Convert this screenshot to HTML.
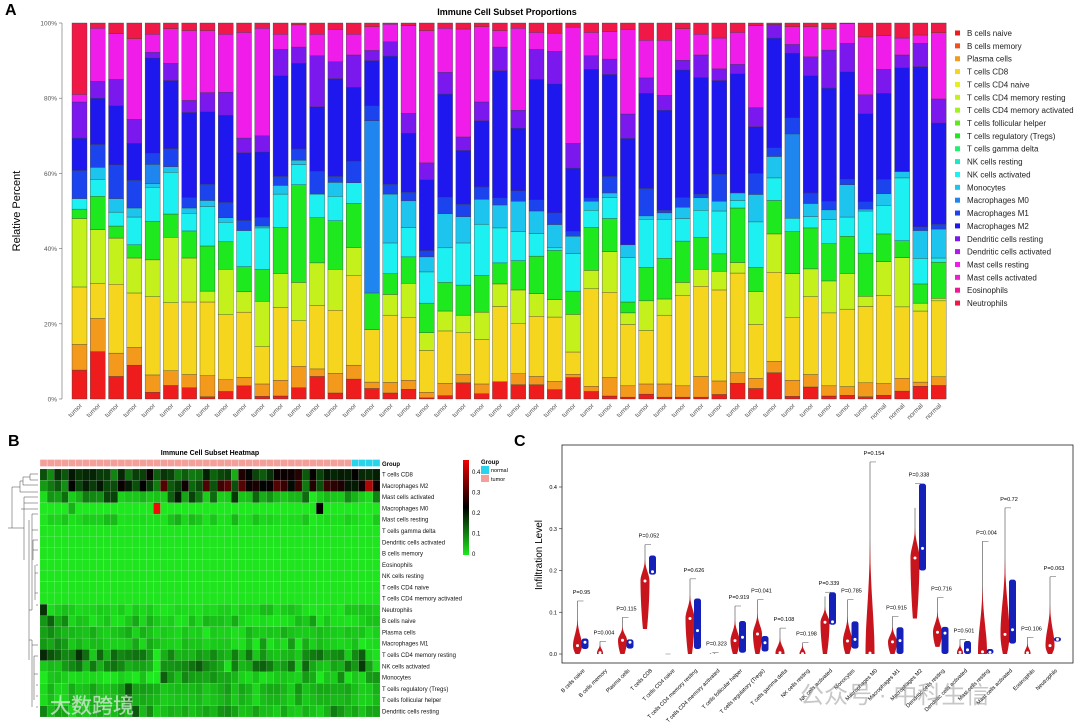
<!DOCTYPE html>
<html><head><meta charset="utf-8"><style>
html,body{margin:0;padding:0;background:#fff}
svg{display:block;font-family:"Liberation Sans","Noto Sans CJK SC",sans-serif}
</style></head><body>
<svg id="fig" width="1080" height="722" viewBox="0 0 1080 722" xmlns="http://www.w3.org/2000/svg">
<g id="pa"></g>
<g id="pb"></g>
<g id="pc"></g>
</svg>
<script>
// ===== Panel A data =====
const sampleGroups = [];
for (let i = 0; i < 44; i++) sampleGroups.push('tumor');
sampleGroups.push('normal','normal','normal','normal');
const stackGroups = ['B cells naive','Plasma cells','T cells CD8','T cells CD4 memory resting','T cells (green)','NK cells activated','Monocytes','Macrophages M0','Macrophages M1','Macrophages M2','Dendritic cells resting','Mast cells'];
// cumulative top (%) of each stack group per sample, rest = Neutrophils
const cumTops = [
[7.7,14.5,29.8,48,50.5,53.3,53.3,53.3,60.8,69.4,79,81],
[12.6,21.4,30.8,45,53.9,58.4,61.6,61.6,67.7,80,84.5,98.6],
[6,12.2,30.5,42.8,46,49.7,53.3,53.3,62.3,78,85,97.2],
[9,13.7,28.2,37.5,41,48.4,50.8,50.8,58.2,68,74.4,95.8],
[1.8,6.4,27.2,37,47.3,56.3,57.3,62.4,65.4,90.7,92.2,97],
[3.6,7.5,25.6,43,49.2,60.3,61.8,61.8,66.6,84.7,89.3,98.5],
[3,6.5,25.8,37.5,44.7,49.4,50.8,50.8,53.6,76.2,79.4,98],
[0.6,6.2,25.8,28.7,40.7,51.2,52.8,52.8,57.1,76.4,81.5,98],
[2,5.1,22.4,34.5,41.8,47,48.2,48.2,52.3,75.5,81.6,97],
[3.5,5.8,23.1,28.5,35.2,44.8,44.8,44.8,47.5,65.5,69.4,97.5],
[0.7,4,13.9,26,34.5,45.5,46,46,48.3,65.7,70,98.6],
[0.8,5,24.3,33.4,45.6,54.5,56.8,56.8,59.2,86,93,97],
[3,8.7,20.8,31,57,62.3,63.5,63.5,66.5,89.3,93.6,99.5],
[6,8,24.9,36.2,48.2,54.5,54.5,54.5,60.6,77.7,91.3,97],
[1.6,6.8,23.6,34.5,47.4,53.9,57.6,57.6,59.2,85.2,89.7,98.3],
[5.3,9,32.9,40.3,52,57.5,57.5,57.5,63.3,82.9,91.5,97],
[2.8,4.5,18.4,18.4,28.2,28.2,28.2,74,78,90,92.7,99],
[1.6,4.4,22.3,27.8,33.3,41.5,54.5,54.5,57.1,91.2,95,99.7],
[2.6,5,21.6,30.8,37.8,45.6,52.7,52.7,55,70.7,76,99.3],
[0.3,1.8,12.9,17.6,25.5,33.8,37.8,37.8,39.5,58.3,62.8,98],
[0.9,4.2,18.1,23.4,31,40.2,49.3,49.3,53.7,81.1,86.9,98.6],
[4.3,6.5,17.6,22.3,30.3,41.5,48.5,48.5,51.8,66.1,69.7,98.4],
[1.4,4,15.8,23.1,32.9,46.5,53.1,53.1,56.4,74,79,99],
[4.6,4.6,24.6,30.6,36.2,45.5,51.6,51.6,53.5,87.3,93.6,98],
[3.8,6.7,20,29,36.8,44.5,52.6,52.6,55.4,72,76.8,98.6],
[3.8,6,22,28,38,44,50,50,53,85,93,97.5],
[2.5,4.7,21.8,26.4,39.5,40.2,46.4,46.4,49.5,83.8,92.5,97.3],
[5.7,6.6,12.5,22.5,28.7,38.7,43.3,43.3,44.6,61.4,68,98.9],
[2,3.4,29.3,34.2,45.6,50.2,52.6,52.6,53.5,87.7,91.3,97.5],
[0.8,5.7,28.4,39.2,48,53.6,54.8,54.8,59.2,86.3,90.4,97.7],
[0.5,3.5,19.8,22.9,25.8,37.6,41,41,41,69.3,75.8,98.3],
[1.3,4,18.2,26.1,35,47.8,48.7,48.7,56,81.3,85.4,95.4],
[0.5,4,22.3,26.6,37.4,47.8,49.5,49.5,50.2,76.8,80.8,95.4],
[0.5,3.5,27.6,31,42,48,51,51,53.6,87.5,90.1,98.5],
[0.5,6,30,34.5,43,50.2,53.5,53.5,54.5,85.5,91.5,97],
[1.2,4.8,29,34,38.6,50,52.6,52.6,59.8,84.7,87.8,96],
[4.2,7,33.5,36.3,50.8,52.8,54.8,54.8,54.8,86.5,89,97.5],
[2.8,5.5,19.8,28.6,35,47.1,54.4,54.4,60,72.4,77.5,99.3],
[7,10,33.7,43.9,52.8,58.8,64.5,64.5,66.8,96,99.6,99.6],
[0.7,5,21.6,33.3,44.5,48.1,48.1,70.5,74.8,92,94.3,99],
[3.2,6.5,27.2,34.6,45.5,48.5,52,52,54.8,86,91,99],
[0.8,3.5,22.9,31.4,41.3,47.7,50.3,50.3,52.6,82.7,92.8,98.5],
[1,3.3,23.9,33.4,43.3,48.4,57,57,58.5,87,94.6,99.8],
[0.6,4.3,24.6,27.3,38.8,50,50.5,50.5,52.5,75.9,80.9,96.3],
[1,4.1,27.5,36.5,43.9,51.5,54.6,54.6,58.4,81.3,87.7,96.6],
[2.1,5.5,24.5,37.6,42.1,58.8,60.5,60.5,60.5,88.1,91.5,96],
[3.4,4.5,23.4,25.5,30.6,37.4,44.8,44.8,45.8,88.4,94.6,96.8],
[3.6,5.9,26.1,26.8,36.4,37.5,45.2,45.2,46.5,73.4,79.8,97.4]
];
const yTickLabels = ['0%','20%','40%','60%','80%','100%'];
const legendLabels = ['B cells naive','B cells memory','Plasma cells','T cells CD8','T cells CD4 naive','T cells CD4 memory resting','T cells CD4 memory activated','T cells follicular helper','T cells regulatory (Tregs)','T cells gamma delta','NK cells resting','NK cells activated','Monocytes','Macrophages M0','Macrophages M1','Macrophages M2','Dendritic cells resting','Dendritic cells activated','Mast cells resting','Mast cells activated','Eosinophils','Neutrophils'];

// ===== Panel C data =====
const violinCats = ['B cells naive','B cells memory','Plasma cells','T cells CD8','T cells CD4 naive','T cells CD4 memory resting','T cells CD4 memory activated','T cells follicular helper','T cells regulatory (Tregs)','T cells gamma delta','NK cells resting','NK cells activated','Monocytes','Macrophages M0','Macrophages M1','Macrophages M2','Dendritic cells resting','Dendritic cells activated','Mast cells resting','Mast cells activated','Eosinophils','Neutrophils'];
const pLabels = ['P=0.95','P=0.004','P=0.115','P=0.052','','P=0.626','P=0.323','P=0.919','P=0.041','P=0.108','P=0.198','P=0.339','P=0.785','P=0.154','P=0.915','P=0.338','P=0.716','P=0.501','P=0.004','P=0.72','P=0.106','P=0.063'];
const tumorMin = [0,0,0,0.06,0,0,0,0,0,0,0,0,0,0,0,0.085,0.017,0,0,0,0,0];
const tumorMax = [0.127,0.03,0.088,0.262,0.001,0.18,0.004,0.115,0.13,0.062,0.027,0.138,0.13,0.46,0.09,0.35,0.135,0.035,0.27,0.35,0.04,0.185];
const tumorMed = [0.02,0.003,0.033,0.175,0,0.085,0,0.032,0.048,0.003,0.001,0.076,0.031,0.002,0.029,0.23,0.052,0.004,0.005,0.047,0.003,0.02];
const normalMin = [0.012,0,0.013,0.19,0,0.012,0,0.003,0.006,0,0,0.07,0.013,0,0,0.2,0,0,0,0.025,0,0.03];
const normalMax = [0.037,0,0.035,0.236,0,0.133,0.004,0.079,0.043,0,0,0.148,0.078,0,0.064,0.408,0.065,0.031,0.012,0.178,0,0.04];
const normalMed = [0.028,0,0.028,0.197,0,0.056,0,0.04,0.027,0,0,0.077,0.035,0,0.032,0.253,0.05,0.01,0.004,0.058,0,0.035];
const cTicks = [0,0.1,0.2,0.3,0.4];

// ===== helpers =====
const NS = 'http://www.w3.org/2000/svg';
function mk(tag, attrs, parent){ const e=document.createElementNS(NS,tag); for(const k in attrs) e.setAttribute(k,attrs[k]); parent.appendChild(e); return e; }
function txt(parent, x, y, s, attrs){ const t=mk('text',Object.assign({x:x,y:y},attrs||{}),parent); t.textContent=s; return t; }

const stackColors = ['#ee1c1c','#f39a1c','#f5d51e','#c4f01c','#1ee81e','#1cf0f0','#1cc4ee','#1e86ee','#1c44ee','#1e18ee','#7a18ee','#f01cea','#f01846'];
const legendColors = ['#ee1c1c','#f0501e','#f39a1c','#f5d51e','#e6ee1c','#c4f01c','#a2f01c','#5ee81e','#1ee81e','#1ef070','#1ee8c4','#1cf0f0','#1cc4ee','#1e86ee','#1c44ee','#1e18ee','#7a18ee','#b018ee','#f01cea','#f01cd0','#f01890','#f01846'];

// ===== Panel A =====
const pa = document.getElementById('pa');
const aY0 = 399, aY1 = 23, aX0 = 72, aPitch = 18.28, aW = 15;
function ayScale(p){ return aY0 + (aY1 - aY0) * p / 100; }
function axScale(i){ return aX0 + i * aPitch; }
let t;
t = txt(pa, 5, 15, 'A', {'font-size':16,'font-weight':'bold'});
 
t = txt(pa, 507, 15, 'Immune Cell Subset Proportions', {'font-size':9,'font-weight':'bold','text-anchor':'middle'});
 
t = txt(pa, 0, 0, 'Relative Percent', {'font-size':11,'text-anchor':'middle','transform':'translate(20,211) rotate(-90)'});
 
let ax = mk('line',{x1:62,y1:ayScale(0),x2:62,y2:ayScale(100),stroke:'#666','stroke-width':0.6},pa);
 
yTickLabels.forEach((lab,i)=>{
  const y = ayScale(i*20);
  const tk = mk('line',{x1:59,y1:y,x2:62,y2:y,stroke:'#666','stroke-width':0.6},pa);
   
  const tl = txt(pa, 57, y+2.5, lab, {'font-size':6.5,'text-anchor':'end',fill:'#555'});
   
});
cumTops.forEach((row,i)=>{
  const g = mk('g',{},pa);
   
  const x = axScale(i);
  let prev = 0;
  const tops = row.concat([100]);
  tops.forEach((top,k)=>{
    if (top - prev > 0.01) {
      const r = mk('rect',{x:x,y:ayScale(top),width:aW,height:ayScale(prev)-ayScale(top),fill:stackColors[k],stroke:'#3a3a3a','stroke-width':0.35},g);
       
    }
    prev = Math.max(prev, top);
  });
  const cx = x + aW/2;
  const l = txt(pa, 0, 0, sampleGroups[i], {'font-size':6.5,fill:'#555','text-anchor':'end','transform':'translate('+(cx+3)+','+(aY0+7)+') rotate(-45)'});
   
});
legendLabels.forEach((lab,i)=>{
  const y = 33 + i*12.86;
  const g = mk('g',{},pa);
   
  mk('rect',{x:955,y:y-2.5,width:5,height:5,fill:legendColors[i]},g);
  txt(g, 967, y+3, lab, {'font-size':8,fill:'#222'});
});

// ===== Panel B =====
const pb = document.getElementById('pb');
const hRows = ['T cells CD8','Macrophages M2','Mast cells activated','Macrophages M0','Mast cells resting','T cells gamma delta','Dendritic cells activated','B cells memory','Eosinophils','NK cells resting','T cells CD4 naive','T cells CD4 memory activated','Neutrophils','B cells naive','Plasma cells','Macrophages M1','T cells CD4 memory resting','NK cells activated','Monocytes','T cells regulatory (Tregs)','T cells follicular helper','Dendritic cells resting'];
function seg(row,k){ const tops=row.concat([100]); return (tops[k]-(k?tops[k-1]:0))/100; }
function heatVal(row, name){
  switch(name){
    case 'T cells CD8': return seg(row,2)*0.95;
    case 'Macrophages M2': return seg(row,9)*0.85;
    case 'Mast cells activated': return seg(row,11)*0.55;
    case 'Macrophages M0': return seg(row,7);
    case 'Mast cells resting': return seg(row,11)*0.15;
    case 'Neutrophils': return seg(row,12)*0.9;
    case 'B cells naive': return seg(row,0);
    case 'Plasma cells': return seg(row,1);
    case 'Macrophages M1': return seg(row,8);
    case 'T cells CD4 memory resting': return seg(row,3);
    case 'NK cells activated': return seg(row,5);
    case 'Monocytes': return seg(row,6);
    case 'T cells regulatory (Tregs)': return seg(row,4)*0.55;
    case 'T cells follicular helper': return seg(row,4)*0.45;
    case 'Dendritic cells resting': return seg(row,10);
    default: return 0.003;
  }
}
function heatColor(v){
  v = Math.max(0, Math.min(0.42, v));
  if (v <= 0.22) { const f = v/0.22; return 'rgb('+Math.round(30*(1-f))+','+Math.round(232*(1-f))+','+Math.round(30*(1-f))+')'; }
  const f = (v-0.22)/0.2; return 'rgb('+Math.round(240*f)+','+Math.round(10*f)+','+Math.round(10*f)+')';
}
t = txt(pb, 8, 446, 'B', {'font-size':16,'font-weight':'bold'});
 
t = txt(pb, 210, 455, 'Immune Cell Subset Heatmap', {'font-size':7,'font-weight':'bold','text-anchor':'middle'});
 
const hX0 = 40, hX1 = 380, hY0 = 469, hY1 = 717;
const cw = (hX1-hX0)/cumTops.length, ch = (hY1-hY0)/hRows.length;
cumTops.forEach((row,j)=>{
  const gr = mk('rect',{x:hX0+j*cw,y:459.5,width:cw,height:7,fill:sampleGroups[j]==='tumor'?'#f4a09a':'#28d4ec',stroke:'#fff','stroke-width':0.3},pb);
   
  hRows.forEach((name,r)=>{
    const c = mk('rect',{x:hX0+j*cw,y:hY0+r*ch,width:cw,height:ch,fill:heatColor(heatVal(row,name)),stroke:'rgba(255,255,255,0.25)','stroke-width':0.3},pb);
     
  });
});
t = txt(pb, 382, 466, 'Group', {'font-size':6,'font-weight':'bold'});
 
hRows.forEach((name,r)=>{
  const l = txt(pb, 382, hY0 + r*ch + ch/2 + 2, name, {'font-size':6,fill:'#111'});
   
});
const dend = mk('path',{d:'M38,474 H30 V480 H38 M30,477 H23 V485 H38 M23,481 H20 V492 H38 M20,487 H12 V528 H24 M24,497 H38 M24,497 V560 M24,503 H38 M21,509 H38 V509 M32,514 H38 M32,514 V610 H29 M29,520 V660 M32,530 H38 M33,540 H38 M33,550 H38 M33,540 V560 M36,565 H38 M35,573 H38 M35,565 V600 M35,593 H38 M36,605 H38 M29,640 H32 V707 M32,645 H38 M34,656 H38 M34,656 V700 M34,674 H38 M36,685 H38 M36,696 H38 M36,707 H38 M12,528 H8',fill:'none',stroke:'#444','stroke-width':0.5},pb);
 
const defs = mk('defs',{},document.getElementById('fig'));
const lg = mk('linearGradient',{id:'hg',x1:0,y1:1,x2:0,y2:0},defs);
mk('stop',{offset:'0',"stop-color":'#1ee81e'},lg);
mk('stop',{offset:'0.5',"stop-color":'#000'},lg);
mk('stop',{offset:'1',"stop-color":'#f00000'},lg);
const cbar = mk('rect',{x:463,y:460,width:6,height:95,fill:'url(#hg)'},pb);
 
['0.4','0.3','0.2','0.1','0'].forEach((s,i)=>{
  const l = txt(pb, 472, 474 + i*20.5, s, {'font-size':6});
   
});
t = txt(pb, 481, 464, 'Group', {'font-size':6,'font-weight':'bold'});
 
let gl = mk('g',{},pb);  
mk('rect',{x:481,y:466,width:8,height:8,fill:'#28d4ec'},gl); txt(gl,491,472,'normal',{'font-size':5.5});
gl = mk('g',{},pb);  
mk('rect',{x:481,y:475,width:8,height:7,fill:'#f4a09a'},gl); txt(gl,491,481,'tumor',{'font-size':5.5});

// ===== Panel C =====
const pc = document.getElementById('pc');
const cL = 562, cR = 1073, cT = 445, cB = 663;
function cy(v){ return 654 - v * 417.5; }
function cx(i){ return 581 + i * 22.5; }
t = txt(pc, 514, 446, 'C', {'font-size':16,'font-weight':'bold'});
 
const box = mk('rect',{x:cL,y:cT,width:cR-cL,height:cB-cT,fill:'none',stroke:'#222','stroke-width':0.8},pc);
 
t = txt(pc, 0, 0, 'Infiltration Level', {'font-size':10,'text-anchor':'middle','transform':'translate(542,555) rotate(-90)'});
 
cTicks.forEach(v=>{
  const tk = mk('line',{x1:cL-3,y1:cy(v),x2:cL,y2:cy(v),stroke:'#222','stroke-width':0.6},pc);
   
  const l = txt(pc, cL-5, cy(v)+2, v.toFixed(1), {'font-size':5.5,'text-anchor':'end'});
   
});
function violin(x, mn, mx, md, w){
  const yt = cy(mx), yb = cy(mn), ym = cy(md);
  const ymC = Math.min(Math.max(ym, yt+1), yb);
  const wb = (yb - ymC) < 3 ? w : w*0.45;
  return 'M'+x+','+yt+' C'+(x+0.6)+','+(yt+(ymC-yt)*0.5)+' '+(x+w)+','+(ymC-(ymC-yt)*0.3)+' '+(x+w)+','+ymC+
    ' C'+(x+w)+','+(ymC+(yb-ymC)*0.5)+' '+(x+wb)+','+yb+' '+(x+wb)+','+yb+' L'+(x-wb)+','+yb+
    ' C'+(x-wb)+','+yb+' '+(x-w)+','+(ymC+(yb-ymC)*0.5)+' '+(x-w)+','+ymC+
    ' C'+(x-w)+','+(ymC-(ymC-yt)*0.3)+' '+(x-0.6)+','+(yt+(ymC-yt)*0.5)+' '+x+','+yt+' Z';
}
violinCats.forEach((name,i)=>{
  const xr = cx(i) - 3.5, xb = cx(i) + 4;
  const g = mk('g',{},pc);
   
  const tRange = tumorMax[i]-tumorMin[i];
  const wr = tRange > 0.05 ? 4.5 : 3;
  if (tumorMax[i] > 0.003) {
    mk('line',{x1:xr,y1:cy(tumorMax[i]),x2:xr,y2:cy(tumorMed[i]),stroke:'#222','stroke-width':0.5},g);
    const vr = mk('path',{d:violin(xr,tumorMin[i],Math.min(tumorMax[i], tumorMed[i]+Math.max(0.02,(tumorMax[i]-tumorMed[i])*0.6)),tumorMed[i],wr),fill:'#c8141c'},g);
     
    mk('circle',{cx:xr,cy:cy(tumorMed[i]),r:1.5,fill:'#fff'},g);
  } else {
    mk('line',{x1:xr-2,y1:cy(0),x2:xr+3,y2:cy(0),stroke:'#888','stroke-width':0.6},g);
  }
  if (normalMax[i] > 0.005) {
    const vb = mk('rect',{x:xb-3.5,y:cy(normalMax[i]),width:7,height:Math.max(2,cy(normalMin[i])-cy(normalMax[i])),rx:2.5,fill:'#1420b8'},g);
     
    mk('circle',{cx:xb,cy:cy(normalMed[i]),r:1.5,fill:'#fff'},g);
  }
  if (pLabels[i]) {
    const top = Math.max(tumorMax[i], normalMax[i]);
    const yb2 = cy(top);
    mk('line',{x1:xr,y1:yb2,x2:xr+6,y2:yb2,stroke:'#555','stroke-width':0.5},g);
    const pl = txt(pc, xr+4, yb2-7, pLabels[i], {'font-size':5.5,'text-anchor':'middle'});
     
  }
  const xl = txt(pc, 0, 0, name, {'font-size':5.5,'text-anchor':'end','transform':'translate('+(cx(i)+4)+','+(cB+8)+') rotate(-45)'});
   
});

const svg = document.getElementById('fig');
let w1 = txt(svg, 50, 713, '大数跨境', {'font-size':21,fill:'#ffffff','fill-opacity':0.6,'stroke':'#ccc','stroke-width':0.3});
 
let w2 = txt(svg, 800, 703, '公众号 · 中科生信', {'font-size':24,fill:'#999','fill-opacity':0.55});
 
</script>
</body></html>
